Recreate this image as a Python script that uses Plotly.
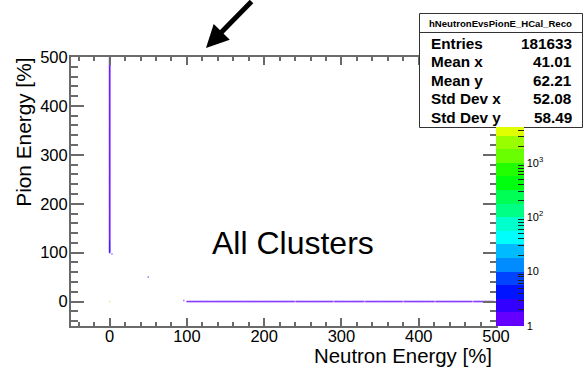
import numpy as np
import plotly.graph_objects as go

# ---------------------------------------------------------------- data
# filled bins along Neutron Energy = 0: (pion_low, pion_high, entries per bin)
pion_axis_segments = [
    (100, 125, 2),
    (125, 500, 1),
]
# filled bins along Pion Energy = 0: (neutron_low, neutron_high, entries per bin)
neutron_axis_segments = [
    (100, 240, 1),
    (241, 290, 1),
    (291, 330, 1),
    (331, 380, 1),
    (381, 421, 1),
    (422, 470, 1),
    (471, 498, 1),
]
# isolated bins
single_x = [0, 50, 96, 3]
single_y = [0, 50, 2, 97]
single_n = [3000, 1, 1, 1]

# statistics box
hist_name = "hNeutronEvsPionE_HCal_Reco"
stat_names = ["Entries", "Mean x", "Mean y", "Std Dev x", "Std Dev y"]
stat_values = ["181633", "41.01", "62.21", "52.08", "58.49"]

x_range = [-50, 500]
y_range = [-50, 500]
z_log_max = 3.66          # top of the visible colour scale (log10 entries)
cbar_major = [1, 10, 100, 1000]
cbar_major_text = ["1", "10", "10<sup>2</sup>", "10<sup>3</sup>"]

# ---------------------------------------------------------------- bins
bx, by, bn = [], [], []
for lo, hi, n in pion_axis_segments:
    ys = np.arange(lo, hi, 1.0)
    bx += [0.0] * len(ys); by += list(ys); bn += [n] * len(ys)
for lo, hi, n in neutron_axis_segments:
    xs = np.arange(lo, hi, 1.0)
    bx += list(xs); by += [0.0] * len(xs); bn += [n] * len(xs)
bx += single_x; by += single_y; bn += single_n
bz = np.log10(np.array(bn, dtype=float))

# ROOT "pretty" palette with 20 contour bands, 4 bands per decade
band_colors = ["#6300ff", "#3300ff", "#0014ff", "#0044ff", "#008bff",
               "#00bbff", "#00fffc", "#00ffcc", "#00ff85", "#00ff55",
               "#00ff0e", "#22ff00", "#69ff00", "#99ff00", "#e0ff00"]
band = 0.25
colorscale = []
for j, c in enumerate(band_colors):
    a = min(j * band / z_log_max, 1.0)
    b = min((j + 1) * band / z_log_max, 1.0)
    colorscale += [[a, c], [b, c]]
    if b >= 1.0:
        break

# ---------------------------------------------------------------- layout geometry
W, H = 583, 368
L, R, T, B = 71, 87, 57, 42
PW, PH = W - L - R, H - T - B


def fx(px):
    return (px - L) / PW


def fy(py):
    return (H - B - py) / PH


font = "Liberation Sans, Arial, Helvetica, sans-serif"
axis_grey = "#6a6a6a"

cb_len = (H - B - 127.5) / PH

fig = go.Figure()

fig.add_trace(go.Scatter(
    x=bx, y=by, mode="markers", hoverinfo="skip", showlegend=False,
    marker=dict(
        symbol="square", size=1.5, line=dict(width=0), opacity=0.55,
        color=bz, colorscale=colorscale, cmin=0, cmax=z_log_max,
        showscale=True,
        colorbar=dict(
            x=1.0, xanchor="left", xpad=0, y=0, yanchor="bottom", ypad=0,
            len=cb_len, lenmode="fraction", thickness=28,
            outlinewidth=0,
            tickmode="array",
            tickvals=list(np.log10(cbar_major)), ticktext=cbar_major_text,
            ticks="inside", ticklen=12, tickcolor="#222", tickwidth=1,
            tickfont=dict(family=font, size=11, color="black"),
        ),
    ),
))

# minor ticks of the colour scale
minor_vals = [np.log10(m * d) for d in (1, 10, 100, 1000) for m in range(2, 10)
              if np.log10(m * d) < z_log_max]
fig.add_trace(go.Scatter(
    x=[-1000], y=[-1000], mode="markers", hoverinfo="skip", showlegend=False,
    marker=dict(
        size=1, color=[0], colorscale=colorscale, cmin=0, cmax=z_log_max,
        showscale=True,
        colorbar=dict(
            x=1.0, xanchor="left", xpad=0, y=0, yanchor="bottom", ypad=0,
            len=cb_len, lenmode="fraction", thickness=28,
            outlinewidth=0,
            tickmode="array", tickvals=minor_vals,
            ticktext=[""] * len(minor_vals),
            ticks="inside", ticklen=6, tickcolor="#222", tickwidth=1,
            showticklabels=False,
        ),
    ),
))

axis_common = dict(
    showgrid=False, zeroline=False, showline=True, linecolor=axis_grey,
    linewidth=2, mirror="allticks", ticks="inside", tickcolor=axis_grey,
    tickwidth=1.5, dtick=100, tick0=0,
    tickfont=dict(family=font, size=16.5, color="black"),
)
fig.update_xaxes(range=x_range, ticklen=8, ticklabelstandoff=-6,
                 minor=dict(dtick=20, tick0=0, ticks="inside", ticklen=4,
                            tickcolor=axis_grey, tickwidth=1.5),
                 **axis_common)
fig.update_yaxes(range=y_range, ticklen=13, ticklabelstandoff=-2,
                 minor=dict(dtick=20, tick0=0, ticks="inside", ticklen=6.5,
                            tickcolor=axis_grey, tickwidth=1.5),
                 **axis_common)

ann = []
# axis titles
ann.append(dict(text="Neutron Energy [%]", x=fx(493.5), y=fy(355.5),
                xanchor="right", yanchor="middle",
                font=dict(family=font, size=20.4, color="black")))
ann.append(dict(text="Pion Energy [%]", x=fx(22.7), y=fy(132), textangle=-90,
                xanchor="center", yanchor="middle",
                font=dict(family=font, size=20.8, color="black")))
# in-plot label
ann.append(dict(text="All Clusters", x=fx(292.5), y=fy(242.5),
                xanchor="center", yanchor="middle",
                font=dict(family=font, size=32, color="black")))
# arrow
ann.append(dict(text="", x=fx(206), y=fy(48), ax=47, ay=-50,
                showarrow=True, arrowhead=2, arrowwidth=5, arrowsize=0.9,
                arrowcolor="black"))
# statistics box text
ann.append(dict(text="<b>%s</b>" % hist_name, x=fx(500.5), y=fy(23),
                xanchor="center", yanchor="middle",
                font=dict(family=font, size=9.6, color="black")))
row_y = [43, 61.5, 80, 99, 117.5]
for name, val, yy in zip(stat_names, stat_values, row_y):
    ann.append(dict(text="<b>%s</b>" % name, x=fx(428.5), y=fy(yy),
                    xanchor="left", yanchor="middle",
                    font=dict(family=font, size=15.3, color="black")))
    ann.append(dict(text="<b>%s</b>" % val, x=fx(574), y=fy(yy),
                    xanchor="right", yanchor="middle",
                    font=dict(family=font, size=15.3, color="black")))
for a in ann:
    a.setdefault("showarrow", False)
    a["xref"] = "paper"
    a["yref"] = "paper"

shapes = [
    dict(type="rect", xref="paper", yref="paper", layer="above",
         x0=fx(419.5), x1=fx(582.5), y0=fy(127.5), y1=fy(13.5),
         line=dict(color="#333", width=1), fillcolor="white"),
    dict(type="line", xref="paper", yref="paper", layer="above",
         x0=fx(419.5), x1=fx(582.5), y0=fy(32.5), y1=fy(32.5),
         line=dict(color="#333", width=1)),
]

fig.update_layout(
    width=W, height=H,
    margin=dict(l=L, r=R, t=T, b=B, pad=0),
    paper_bgcolor="white", plot_bgcolor="white",
    annotations=ann, shapes=shapes, showlegend=False,
)

fig.write_html("out.html")
